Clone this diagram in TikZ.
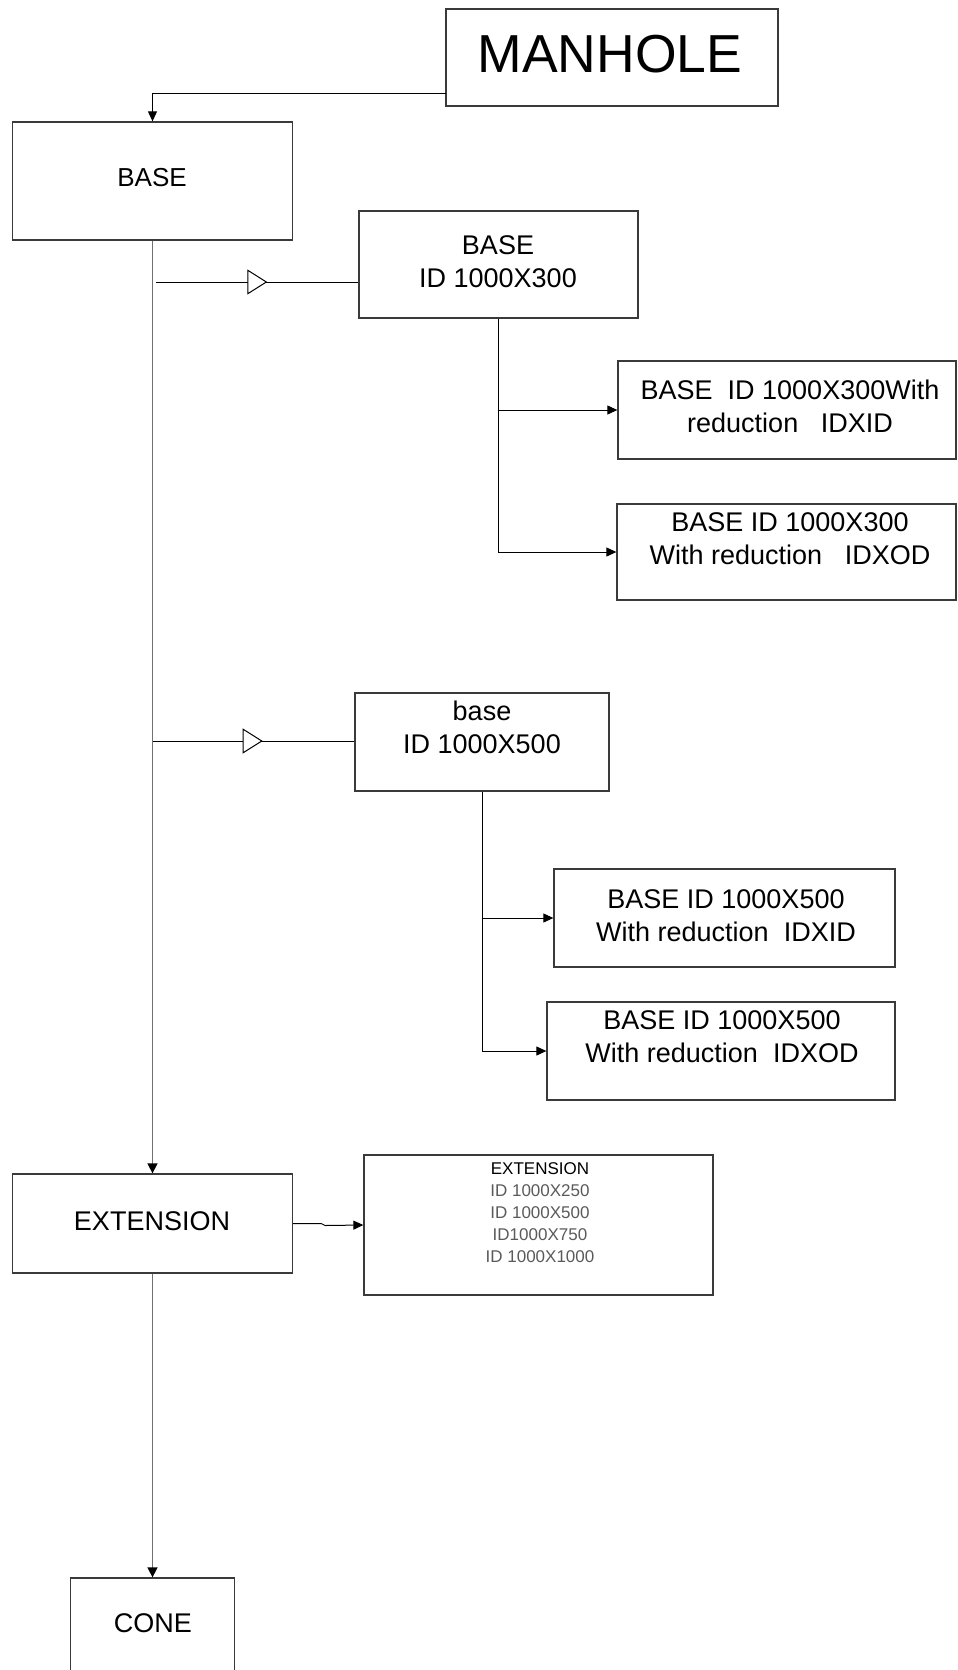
\documentclass[tikz,border=0pt]{standalone}
\usepackage{fontspec}
\setmainfont{Liberation Sans}
\usetikzlibrary{arrows.meta,decorations.markings}
\definecolor{boxline}{HTML}{3A3A3A}
\definecolor{trunk}{HTML}{707070}
\definecolor{listgrey}{HTML}{5A5A5A}
\tikzset{
  box/.style={draw=boxline, line width=1.3pt, inner sep=0pt},
  lbl/.style={inner sep=0pt, align=center, font=\fontsize{27}{33}\selectfont},
  link/.style={draw=black, line width=1pt, -{Triangle[length=10pt,width=9pt]}},
  trunkline/.style={draw=trunk, line width=1.5pt, -{Triangle[length=10pt,width=10pt,color=black]}},
  openmid/.style={draw=black, line width=1pt, postaction={decorate},
    decoration={markings, mark=at position #1 with {\arrow{Triangle[fill=white,length=20pt,width=25pt]}}}},
}
\begin{document}
\begin{tikzpicture}[x=1pt,y=-1pt]
\useasboundingbox (0,0) rectangle (958,1670);

% boxes
\node[box, minimum width=332pt, minimum height=97pt]  (manhole) at (612,57.5) {};
\node[box, minimum width=280pt, minimum height=118pt] (base)    at (152.5,181) {};
\node[box, minimum width=279pt, minimum height=107pt] (b300)    at (498.5,264.5) {};
\node[box, minimum width=338pt, minimum height=98pt]  (xid300)  at (787,410) {};
\node[box, minimum width=339pt, minimum height=96pt]  (xod300)  at (786.5,552) {};
\node[box, minimum width=254pt, minimum height=98pt]  (b500)    at (482,742) {};
\node[box, minimum width=341pt, minimum height=98pt]  (xid500)  at (724.5,918) {};
\node[box, minimum width=348pt, minimum height=98pt]  (xod500)  at (721,1051) {};
\node[box, minimum width=280pt, minimum height=99pt]  (ext)     at (152.5,1223.5) {};
\node[box, minimum width=349pt, minimum height=140pt] (extlist) at (538.5,1225) {};
\node[box, minimum width=164pt, minimum height=120pt] (cone)    at (152.5,1638) {};

% labels
\node[lbl, font=\fontsize{53.5}{60}\selectfont] (t-manhole) at (610,54) {MANHOLE};
\node[lbl, font=\fontsize{26}{31}\selectfont] (t-base) at (152,178) {BASE};
\node[lbl] (t-b300)   at (498,261.5) {BASE\\ID 1000X300};
\node[lbl] (t-xid300) at (790,406.5) {BASE\ \ ID 1000X300With\\reduction\ \ \ IDXID};
\node[lbl] (t-xod300) at (790,538.5) {BASE ID 1000X300\\With reduction\ \ \ IDXOD};
\node[lbl] (t-b500)   at (482,727.5) {base\\ID 1000X500};
\node[lbl] (t-xid500) at (726,916) {BASE ID 1000X500\\With reduction\ \ IDXID};
\node[lbl] (t-xod500) at (722,1037) {BASE ID 1000X500\\With reduction\ \ IDXOD};
\node[lbl] (t-ext)    at (152,1221) {EXTENSION};
\node[lbl, font=\fontsize{17}{22}\selectfont] (t-extlist) at (540,1213)
  {EXTENSION\\\textcolor{listgrey}{ID 1000X250}\\\textcolor{listgrey}{ID 1000X500}\\
   \textcolor{listgrey}{ID1000X750}\\\textcolor{listgrey}{ID 1000X1000}};
\node[lbl] (t-cone)   at (153,1623) {CONE};

% connectors
\coordinate (mh) at (446,93);
\draw[link] (mh) -| (base.north);
\draw[trunkline] (base.south) -- (ext.north);
\draw[trunkline] (ext.south) -- (cone.north);

\coordinate (br1) at (156,282);
\draw[openmid=0.55] (br1) -- (b300.west |- br1);
\coordinate (br2) at (153,741);
\draw[openmid=0.545] (br2) -- (b500.west |- br2);

\draw[link] (b300.south) |- (xid300.west);
\draw[link] (b300.south) |- (xod300.west);
\draw[link] (b500.south) |- (xid500.west);
\draw[link] (b500.south) |- (xod500.west);
\draw[link] (ext.east) -- ++(28,0) -- ++(4,2) -- (extlist.west);
\end{tikzpicture}
\end{document}
